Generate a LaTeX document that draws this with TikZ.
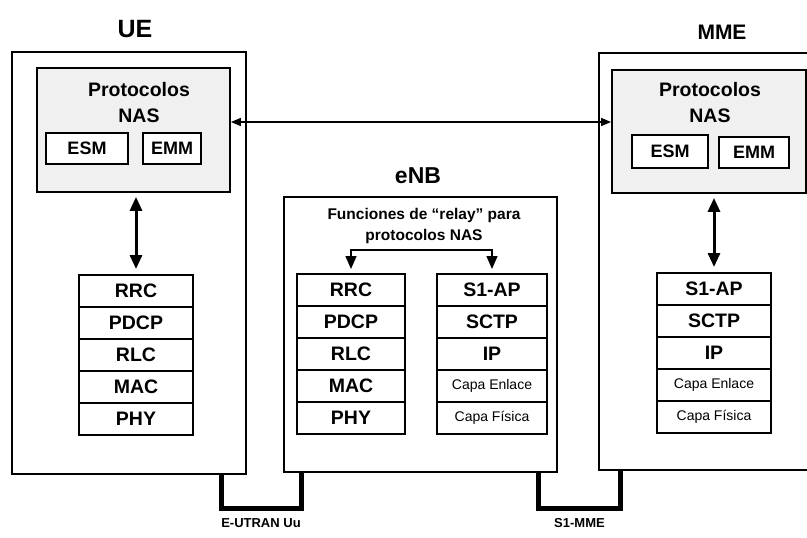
\documentclass[tikz,border=0pt]{standalone}
\usepackage{fontspec}
\setmainfont{Liberation Sans}
\usetikzlibrary{arrows.meta,positioning}

\begin{document}
\begin{tikzpicture}[x=1pt, y=-1pt,
  caja/.style={draw, line width=2.6pt, inner sep=0pt},
  nas/.style={draw, line width=1.8pt, fill=black!6, inner sep=0pt},
  sub/.style={draw, line width=1.8pt, fill=white, inner sep=0pt, font=\bfseries\fontsize{18}{18}\selectfont},
  capa/.style={draw, line width=1.4pt, fill=white, outer sep=0pt, inner sep=0pt, minimum height=32pt, font=\bfseries\fontsize{19.5}{19.5}\selectfont},
  capab/.style={capa, font=\fontsize{14}{14}\selectfont},
  titulo/.style={font=\bfseries\fontsize{25}{25}\selectfont},
  texto/.style={align=center, font=\bfseries\fontsize{17}{20}\selectfont},
  dflecha/.style={{Triangle[length=14pt,width=12pt]}-{Triangle[length=14pt,width=12pt]}, line width=3pt},
  hflecha/.style={{Triangle[length=10pt,width=8pt]}-{Triangle[length=10pt,width=8pt]}, line width=1.5pt},
  rflecha/.style={{Triangle[length=13pt,width=11pt]}-{Triangle[length=13pt,width=11pt]}, line width=1.5pt},
  enlace/.style={line width=5pt, line join=miter},
  etiqueta/.style={font=\bfseries\fontsize{13}{13}\selectfont}]
  \useasboundingbox (0,0) rectangle (807,538);

  % equipos
  \node[caja, minimum width=234pt, minimum height=422pt] (ue) at (129,263) {};
  \node[caja, minimum width=273pt, minimum height=275pt] (enb) at (420.5,334.5) {};
  \node[caja, minimum width=218pt, minimum height=417pt] (mme) at (708,261.5) {};
  \node[titulo] (ueT) at (135,29) {UE};
  \node[titulo, font=\bfseries\fontsize{23}{23}\selectfont] (enbT) at (418,176) {eNB};
  \node[titulo, font=\bfseries\fontsize{21}{21}\selectfont] (mmeT) at (722,32) {MME};

  % protocolos NAS en el UE
  \node[nas, minimum width=193pt, minimum height=124pt] (ueNas) at (133.5,130) {};
  \node[texto, font=\bfseries\fontsize{19.5}{26}\selectfont] (ueNasT) at (139,103) {Protocolos\\NAS};
  \node[sub, minimum width=82pt, minimum height=31pt] (ueESM) at (87,148.5) {ESM};
  \node[sub, minimum width=58pt, minimum height=31pt] (ueEMM) at (172,148.5) {EMM};

  % protocolos NAS en el MME
  \node[nas, minimum width=194pt, minimum height=123pt] (mmeNas) at (709,131.5) {};
  \node[texto, font=\bfseries\fontsize{19.5}{26}\selectfont] (mmeNasT) at (710,103) {Protocolos\\NAS};
  \node[sub, minimum width=76pt, minimum height=33pt] (mmeESM) at (670,151.5) {ESM};
  \node[sub, minimum width=70pt, minimum height=31pt] (mmeEMM) at (754,152.5) {EMM};

  % pila del UE
  \node[capa, minimum width=114pt, anchor=north] (ueRRC) at (136,275) {RRC};
  \node[capa, minimum width=114pt, below=0pt of ueRRC] (uePDCP) {PDCP};
  \node[capa, minimum width=114pt, below=0pt of uePDCP] (ueRLC) {RLC};
  \node[capa, minimum width=114pt, below=0pt of ueRLC] (ueMAC) {MAC};
  \node[capa, minimum width=114pt, below=0pt of ueMAC] (uePHY) {PHY};

  % pilas del eNB
  \node[capa, minimum width=108pt, anchor=north] (enbRRC) at (351,274) {RRC};
  \node[capa, minimum width=108pt, below=0pt of enbRRC] (enbPDCP) {PDCP};
  \node[capa, minimum width=108pt, below=0pt of enbPDCP] (enbRLC) {RLC};
  \node[capa, minimum width=108pt, below=0pt of enbRLC] (enbMAC) {MAC};
  \node[capa, minimum width=108pt, below=0pt of enbMAC] (enbPHY) {PHY};
  \node[capa, minimum width=110pt, anchor=north] (enbS1) at (492,274) {S1-AP};
  \node[capa, minimum width=110pt, below=0pt of enbS1] (enbSCTP) {SCTP};
  \node[capa, minimum width=110pt, below=0pt of enbSCTP] (enbIP) {IP};
  \node[capab, minimum width=110pt, below=0pt of enbIP] (enbEnl) {Capa Enlace};
  \node[capab, minimum width=110pt, below=0pt of enbEnl] (enbFis) {Capa Física};
  \node[texto, font=\bfseries\fontsize{15.5}{21}\selectfont] (relayT) at (424,226) {Funciones de “relay” para\\protocolos NAS};

  % pila del MME
  \node[capa, minimum width=114pt, anchor=north] (mmeS1) at (714,273) {S1-AP};
  \node[capa, minimum width=114pt, below=0pt of mmeS1] (mmeSCTP) {SCTP};
  \node[capa, minimum width=114pt, below=0pt of mmeSCTP] (mmeIP) {IP};
  \node[capab, minimum width=114pt, below=0pt of mmeIP] (mmeEnl) {Capa Enlace};
  \node[capab, minimum width=114pt, below=0pt of mmeEnl] (mmeFis) {Capa Física};

  % flechas
  \draw[hflecha] ([yshift=8pt]ueNas.east) -- ([yshift=8pt]ueNas.east -| mmeNas.west);
  \draw[dflecha, shorten <=4pt, shorten >=6pt] (ueNas.south -| ueRRC.north) -- (ueRRC.north);
  \draw[dflecha, shorten <=4pt, shorten >=6pt] (mmeNas.south -| mmeS1.north) -- (mmeS1.north);
  \draw[rflecha, shorten <=5pt, shorten >=5pt] (enbRRC.north) |- ([yshift=24pt]enbS1.north) -- (enbS1.north);

  % enlaces
  \coordinate (uuBase) at (261,508);
  \coordinate (s1Base) at (579.5,508);
  \draw[enlace] ([xshift=-26pt]ue.south east) |- (uuBase) -| ([xshift=19pt]enb.south west);
  \draw[enlace] ([xshift=-20pt]enb.south east) |- (s1Base) -| ([xshift=23pt]mme.south west);
  \node[etiqueta, below=7pt of uuBase] (uuT) {E-UTRAN Uu};
  \node[etiqueta, below=7pt of s1Base] (s1T) {S1-MME};
\end{tikzpicture}
\end{document}
